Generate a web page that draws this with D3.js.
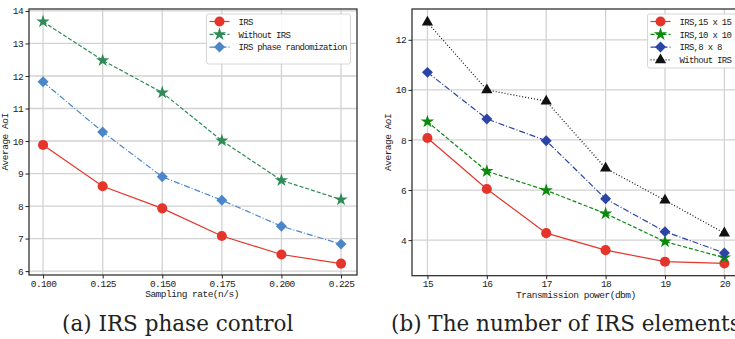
<!DOCTYPE html>
<html>
<head>
<meta charset="utf-8">
<script src="https://cdn.jsdelivr.net/npm/d3@7"></script>
<style>
  body { margin: 0; background: #fff; }
  svg { display: block; }
  .tick text { font-family: "Liberation Mono", "DejaVu Sans Mono", monospace; font-size: 9.5px; letter-spacing: -0.6px; fill: #222; }
  .lbl { font-family: "Liberation Mono", "DejaVu Sans Mono", monospace; font-size: 9.5px; letter-spacing: -0.5px; fill: #222; }
  .leg { font-family: "Liberation Mono", "DejaVu Sans Mono", monospace; font-size: 9px; letter-spacing: -0.7px; fill: #222; }
  .cap { font-family: "DejaVu Serif", "Liberation Serif", serif; font-size: 21.5px; fill: #222; }
</style>
</head>
<body>
<svg id="chart" width="735" height="339"></svg>
<script>
// panel (a): sampling rate
const rateTicks = [0.100, 0.125, 0.150, 0.175, 0.200, 0.225];
const rateIrs = [9.88, 8.61, 7.93, 7.08, 6.51, 6.23];
const rateNoIrs = [13.67, 12.48, 11.49, 10.01, 8.79, 8.2];
const rateRandom = [11.82, 10.28, 8.9, 8.18, 7.38, 6.83];
const rateYTicks = [6, 7, 8, 9, 10, 11, 12, 13, 14];

// panel (b): transmission power
const powerTicks = [15, 16, 17, 18, 19, 20];
const power15 = [8.08, 6.04, 4.28, 3.6, 3.14, 3.07];
const power10 = [8.73, 6.75, 5.99, 5.06, 3.94, 3.3];
const power8 = [10.7, 8.84, 7.97, 5.65, 4.34, 3.49];
const powerNoIrs = [12.7, 10.0, 9.55, 6.87, 5.59, 4.28];
const powerYTicks = [4, 6, 8, 10, 12];

const svg = d3.select('#chart');

// matplotlib style 'D' marker: square turned 45 degrees
const squareDiamond = {
  draw(ctx, size) {
    const r = Math.sqrt(size / 2);
    ctx.moveTo(0, -r);
    ctx.lineTo(r, 0);
    ctx.lineTo(0, r);
    ctx.lineTo(-r, 0);
    ctx.closePath();
  }
};

function drawPanel(cfg) {
  const x = d3.scaleLinear().domain(cfg.xDomain).range([cfg.left, cfg.right]);
  const y = d3.scaleLinear().domain(cfg.yDomain).range([cfg.bottom, cfg.top]);
  const g = svg.append('g');

  // grid
  g.selectAll('.vg').data(cfg.xTicks).enter().append('line')
    .attr('x1', d => x(d)).attr('x2', d => x(d))
    .attr('y1', cfg.top).attr('y2', cfg.bottom)
    .attr('stroke', '#d2d2d2').attr('stroke-width', 1.3);
  g.selectAll('.hg').data(cfg.yTicks).enter().append('line')
    .attr('x1', cfg.left).attr('x2', cfg.right)
    .attr('y1', d => y(d)).attr('y2', d => y(d))
    .attr('stroke', '#d2d2d2').attr('stroke-width', 1.3);

  // frame
  g.append('rect')
    .attr('x', cfg.left).attr('y', cfg.top)
    .attr('width', cfg.right - cfg.left).attr('height', cfg.bottom - cfg.top)
    .attr('fill', 'none').attr('stroke', '#222').attr('stroke-width', 1.2);

  const xAxis = d3.axisBottom(x).tickValues(cfg.xTicks).tickFormat(cfg.xFormat)
    .tickSize(3.5).tickPadding(1.5);
  const yAxis = d3.axisLeft(y).tickValues(cfg.yTicks).tickFormat(d3.format('d'))
    .tickSize(3.5).tickPadding(2.5);
  g.append('g').attr('transform', 'translate(0,' + cfg.bottom + ')').call(xAxis)
    .call(a => a.select('.domain').remove())
    .call(a => a.selectAll('.tick line').attr('stroke', '#222'));
  g.append('g').attr('transform', 'translate(' + cfg.left + ',0)').call(yAxis)
    .call(a => a.select('.domain').remove())
    .call(a => a.selectAll('.tick line').attr('stroke', '#222'));

  g.append('text').attr('class', 'lbl')
    .attr('x', (x(cfg.xTicks[0]) + x(cfg.xTicks[cfg.xTicks.length - 1])) / 2)
    .attr('y', cfg.bottom + 22).attr('text-anchor', 'middle').text(cfg.xLabel);
  g.append('text').attr('class', 'lbl')
    .attr('transform', 'translate(' + (cfg.left - 21) + ',' + ((cfg.top + cfg.bottom) / 2) + ') rotate(-90)')
    .attr('text-anchor', 'middle').text('Average AoI');

  const line = d3.line().x((d, i) => x(cfg.xTicks[i])).y(d => y(d));
  cfg.series.forEach(s => {
    g.append('path').datum(s.values)
      .attr('d', line).attr('fill', 'none')
      .attr('stroke', s.color).attr('stroke-width', 1.2)
      .attr('stroke-dasharray', s.dash);
    g.selectAll(null).data(s.values).enter().append('path')
      .attr('transform', (d, i) => 'translate(' + x(cfg.xTicks[i]) + ',' + y(d) + ')')
      .attr('d', d3.symbol().type(s.symbol).size(s.size))
      .attr('fill', s.color);
  });

  // legend
  const lg = g.append('g');
  lg.append('rect')
    .attr('x', cfg.legend.x).attr('y', cfg.legend.y)
    .attr('width', cfg.legend.w).attr('height', cfg.legend.h)
    .attr('rx', 2).attr('fill', 'rgba(255,255,255,0.85)')
    .attr('stroke', '#cccccc').attr('stroke-width', 0.8);
  cfg.series.forEach((s, i) => {
    const yy = cfg.legend.y + 7.5 + i * 12.8;
    const x0 = cfg.legend.x + 3;
    lg.append('line').attr('x1', x0).attr('x2', x0 + 20)
      .attr('y1', yy).attr('y2', yy)
      .attr('stroke', s.color).attr('stroke-width', 1.2)
      .attr('stroke-dasharray', s.dash);
    lg.append('path').attr('transform', 'translate(' + (x0 + 10) + ',' + yy + ')')
      .attr('d', d3.symbol().type(s.symbol).size(s.size)).attr('fill', s.color);
    lg.append('text').attr('class', 'leg')
      .attr('x', x0 + 29).attr('y', yy + 3.2).text(s.name);
  });

  svg.append('text').attr('class', 'cap')
    .attr('x', cfg.capX).attr('y', 331).text(cfg.caption);
}

drawPanel({
  left: 29, right: 357, top: 9, bottom: 275,
  xDomain: [0.0941, 0.2317], yDomain: [5.88, 14.06],
  xTicks: rateTicks, yTicks: rateYTicks,
  xFormat: d3.format('.3f'),
  xLabel: 'Sampling rate(n/s)',
  series: [
    { name: 'IRS', values: rateIrs, color: '#e5352b', dash: null, symbol: d3.symbolCircle, size: 80 },
    { name: 'Without IRS', values: rateNoIrs, color: '#2e8b57', dash: '4,2', symbol: d3.symbolStar, size: 55 },
    { name: 'IRS phase randomization', values: rateRandom, color: '#4a86c8', dash: '6,2,1,2', symbol: squareDiamond, size: 60 }
  ],
  legend: { x: 206.5, y: 14, w: 144, h: 50 },
  capX: 62, caption: '(a) IRS phase control'
});

drawPanel({
  left: 412, right: 741, top: 9, bottom: 275.7,
  xDomain: [14.74, 20.28], yDomain: [2.58, 13.23],
  xTicks: powerTicks, yTicks: powerYTicks,
  xFormat: d3.format('d'),
  xLabel: 'Transmission power(dbm)',
  series: [
    { name: 'IRS,15 x 15', values: power15, color: '#e5352b', dash: null, symbol: d3.symbolCircle, size: 80 },
    { name: 'IRS,10 x 10', values: power10, color: '#0a8a0a', dash: '4,2', symbol: d3.symbolStar, size: 55 },
    { name: 'IRS,8 x 8', values: power8, color: '#2b44a6', dash: '6,2,1,2', symbol: squareDiamond, size: 60 },
    { name: 'Without IRS', values: powerNoIrs, color: '#111111', dash: '1,2', symbol: d3.symbolTriangle, size: 55 }
  ],
  legend: { x: 647.5, y: 14, w: 90, h: 54 },
  capX: 391, caption: '(b) The number of IRS elements'
});
</script>
</body>
</html>
